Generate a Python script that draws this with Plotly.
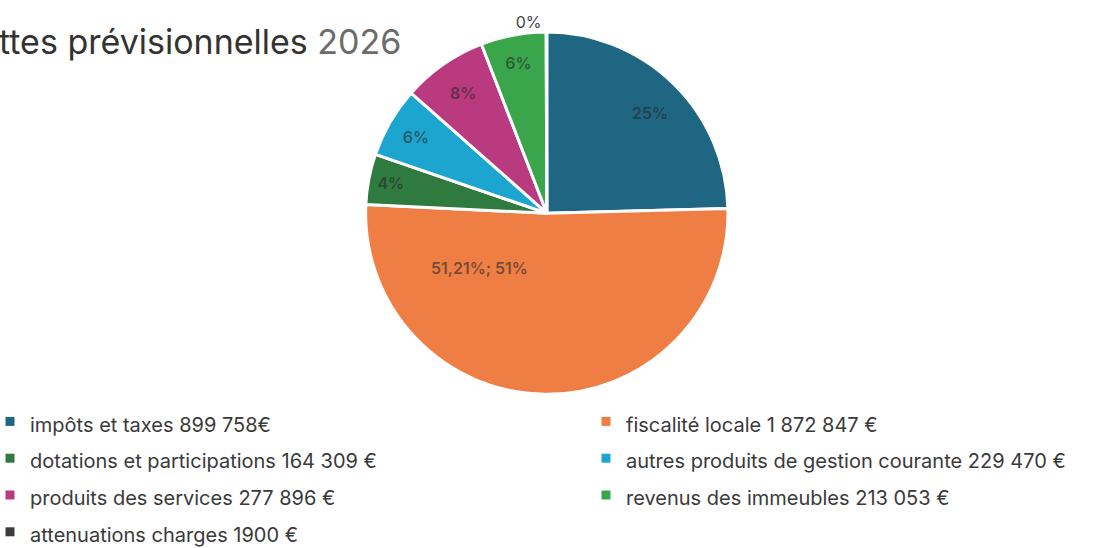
import plotly.graph_objects as go

categories = [
    "impôts et taxes 899 758€",
    "fiscalité locale 1 872 847 €",
    "dotations et participations 164 309 €",
    "autres produits de gestion courante 229 470 €",
    "produits des services 277 896 €",
    "revenus des immeubles 213 053 €",
    "attenuations charges 1900 €",
]
values = [899758, 1872847, 164309, 229470, 277896, 213053, 1900]
slice_texts = ["25%", "51,21%; 51%", "4%", "6%", "8%", "6%", "0%"]
text_positions = ["inside", "inside", "inside", "inside", "inside", "inside", "outside"]
colors = ["#1f6682", "#ef7e45", "#2f7a3f", "#1ca6cf", "#b93a7e", "#3aa64c", "#3d3d3d"]
title_main = "ttes prévisionnelles "
title_year = "2026"

FONT = "Inter, Liberation Sans, sans-serif"
LABEL_COLOR = "rgba(40,40,40,0.6)"

# the two large slices get their labels placed like the original (off the bisector)
pie_texts = ["", ""] + slice_texts[2:]

fig = go.Figure(
    go.Pie(
        labels=categories,
        values=values,
        text=pie_texts,
        textinfo="text",
        textposition=text_positions,
        insidetextorientation="horizontal",
        sort=False,
        direction="clockwise",
        rotation=0,
        marker=dict(colors=colors, line=dict(color="white", width=3)),
        insidetextfont=dict(family=FONT, size=16, color=LABEL_COLOR, weight=600),
        outsidetextfont=dict(family=FONT, size=16, color="#444444"),
        domain=dict(x=[0.330, 0.657], y=[0.276, 0.946]),
        hoverinfo="label+value+percent",
        showlegend=False,
    )
)

# legend in two columns (row-wise order, like the original)
for i, (name, col) in enumerate(zip(categories, colors)):
    fig.add_trace(go.Scatter(
        x=[None], y=[None], mode="markers",
        marker=dict(symbol="square", size=9, color=col),
        name=f"<span style='font-size:20px'>{name}</span>",
        legend="legend" if i % 2 == 0 else "legend2",
        hoverinfo="skip",
    ))

for txt, (ax, ay) in zip(slice_texts[:2], [(0.5866, 0.7938), (0.4332, 0.5109)]):
    fig.add_annotation(
        text=txt, xref="paper", yref="paper", x=ax, y=ay,
        xanchor="center", yanchor="middle", showarrow=False,
        font=dict(family=FONT, size=16, color=LABEL_COLOR, weight=600),
    )

fig.add_annotation(
    text=f"<span style='color:#333333'>{title_main}</span><span style='color:#6b6b6b'>{title_year}</span>",
    xref="paper", yref="paper", x=0, y=1 - 42 / 548, xshift=-3,
    xanchor="left", yanchor="middle", showarrow=False,
    font=dict(family=FONT, size=34),
)

legend_common = dict(
    orientation="v", yanchor="top", xanchor="left",
    indentation=-10,
    font=dict(family=FONT, size=26, color="#3a3a3a"),
    traceorder="normal", bgcolor="rgba(0,0,0,0)",
)

fig.update_layout(
    width=1108, height=548,
    margin=dict(l=0, r=0, t=0, b=0, autoexpand=False),
    paper_bgcolor="white", plot_bgcolor="white",
    showlegend=True,
    xaxis=dict(visible=False), yaxis=dict(visible=False),
    legend=dict(x=0, y=1 - 398 / 548, **legend_common),
    legend2=dict(x=0.5379, y=1 - 398 / 548, **legend_common),
)

fig.write_html("out.html", config={"displayModeBar": False},
               post_script="document.body.style.margin='0';")
